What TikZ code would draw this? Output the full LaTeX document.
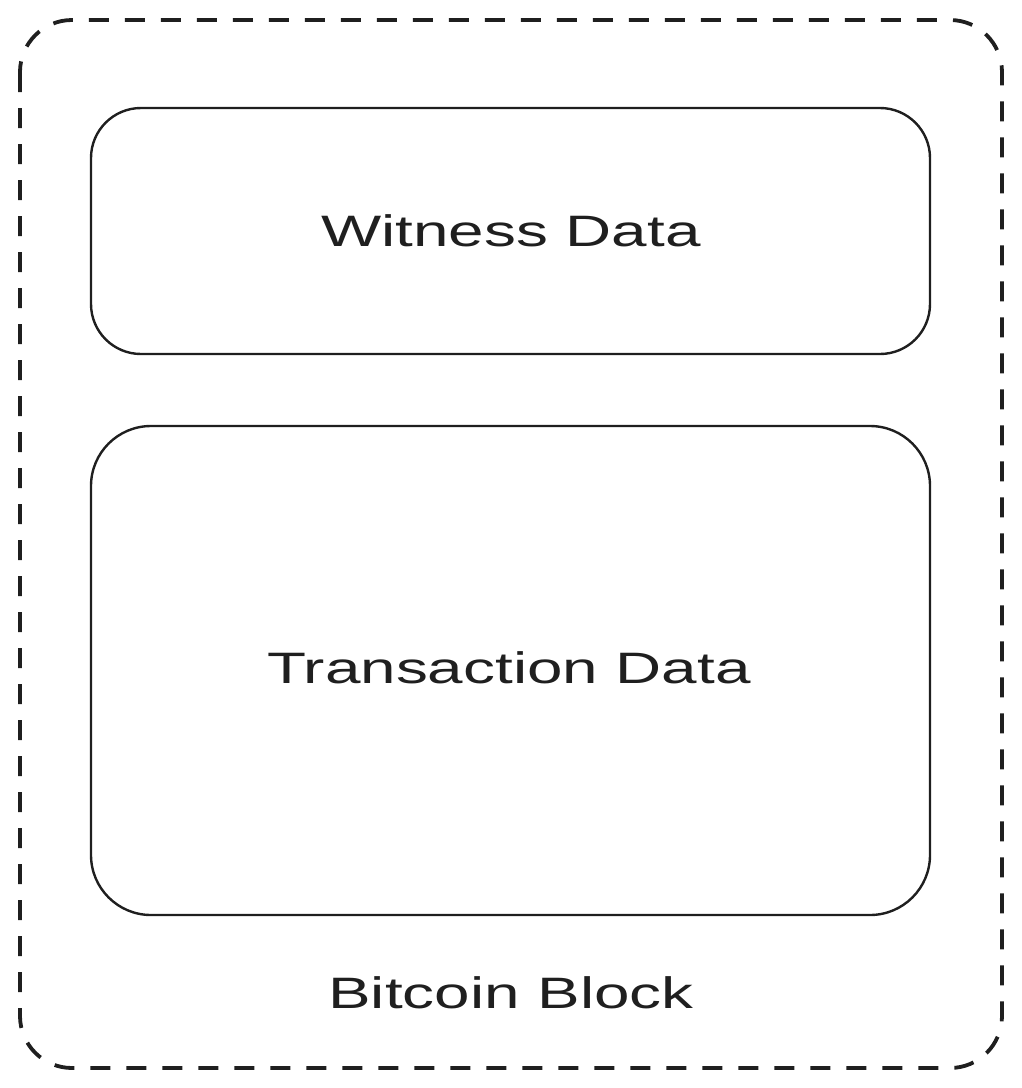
\documentclass[tikz,border=0pt]{standalone}
\usepackage{fontspec}
\setmainfont{Liberation Sans}
\newcommand{\widen}[1]{\scalebox{1.45}[1]{#1}}
\begin{document}
\begin{tikzpicture}[x=1pt,y=-1pt,
  outerbox/.style={draw=black!88,line width=3.8pt,dash pattern=on 20pt off 16pt,rounded corners=52pt},
  innerbox/.style={draw=black!88,line width=2.4pt},
  lbl/.style={font=\fontsize{44}{50}\selectfont,text=black!88}]
\useasboundingbox (0,0) rectangle (1022,1088);
\draw[outerbox] (20,20) rectangle (1002,1068);
\draw[innerbox,rounded corners=50pt] (91,108) rectangle (930,354);
\draw[innerbox,rounded corners=60pt] (91,426) rectangle (930,915);
\node[lbl] (witness) at (511,231) {\widen{Witness Data}};
\node[lbl] (tx) at (509,668) {\widen{Transaction Data}};
\node[lbl] (block) at (511,993) {\widen{Bitcoin Block}};
\end{tikzpicture}
\end{document}
